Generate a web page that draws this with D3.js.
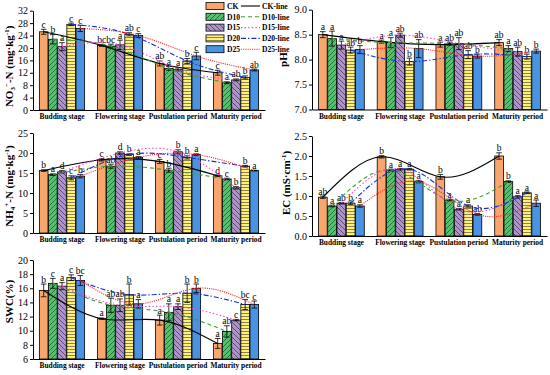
<!DOCTYPE html>
<html>
<head>
<meta charset="utf-8">
<script src="https://cdn.jsdelivr.net/npm/d3@7"></script>
<style>
  body { margin: 0; background: #fff; }
  svg { display: block; }
  text { font-family: "Liberation Serif", "Times New Roman", serif; }
</style>
</head>
<body>
<div id="chart"></div>
<script>
const stages = ['Budding stage', 'Flowering stage', 'Pustulation period', 'Maturity period'];
const series = ['CK', 'D10', 'D15', 'D20', 'D25'];

// values per stage, in series order CK, D10, D15, D20, D25
const no3Mean = [[25.2, 22.8, 20.4, 27.6, 26.3], [20.8, 20.6, 21.0, 24.4, 24.0], [15.0, 13.4, 13.1, 15.8, 17.4], [12.0, 8.8, 9.7, 10.5, 12.9]];
const no3Err = [[0.8, 1.5, 1.3, 0.4, 1.0], [0.3, 0.6, 1.5, 0.5, 0.6], [0.8, 0.6, 0.5, 0.8, 1.2], [0.8, 0.3, 0.3, 0.5, 0.3]];
const no3Sig = [['c', 'b', 'a', 'c', 'c'], ['bc', 'bc', 'a', 'ab', 'c'], ['ab', 'a', 'a', 'b', 'c'], ['c', 'a', 'ab', 'b', 'ab']];

const phMean = [[8.50, 8.42, 8.29, 8.19, 8.20], [8.36, 8.34, 8.49, 7.96, 8.22], [8.30, 8.32, 8.32, 8.10, 8.07], [8.34, 8.22, 8.16, 8.06, 8.17]];
const phErr = [[0.06, 0.15, 0.08, 0.06, 0.08], [0.03, 0.10, 0.04, 0.07, 0.18], [0.05, 0.03, 0.12, 0.08, 0.04], [0.06, 0.06, 0.09, 0.05, 0.04]];
const phSig = [['a', 'a', 'a', 'ab', 'b'], ['a', 'a', 'ab', 'b', 'ab'], ['a', 'ab', 'ab', 'ab', 'b'], ['ab', 'a', 'ab', 'b', 'b']];

const nh4Mean = [[15.6, 14.6, 15.3, 13.8, 14.2], [18.3, 16.7, 20.0, 19.6, 18.9], [17.9, 15.7, 20.3, 18.9, 19.6], [14.3, 13.5, 11.3, 16.7, 15.6]];
const nh4Err = [[0.2, 0.2, 0.3, 0.5, 0.4], [0.3, 0.5, 0.3, 0.2, 0.2], [0.5, 0.5, 0.5, 0.4, 0.2], [0.2, 0.2, 0.3, 0.2, 0.1]];
const nh4Sig = [['b', 'a', 'd', 'c', 'b'], ['c', 'ab', 'd', 'b', 'a'], ['c', 'b', 'b', 'b', 'a'], ['d', 'c', 'b', 'b', 'a']];

const ecMean = [[0.97, 0.75, 0.82, 0.82, 0.75], [1.98, 1.65, 1.67, 1.67, 1.36], [1.48, 0.90, 0.67, 0.75, 0.54], [2.00, 1.36, 0.98, 1.08, 0.82]];
const ecErr = [[0.03, 0.02, 0.02, 0.03, 0.03], [0.03, 0.02, 0.02, 0.02, 0.03], [0.06, 0.02, 0.02, 0.03, 0.02], [0.08, 0.02, 0.03, 0.02, 0.08]];
const ecSig = [['ab', 'a', 'ab', 'b', 'a'], ['b', 'a', 'a', 'a', 'a'], ['b', 'a', 'a', 'a', 'ab'], ['b', 'b', 'a', 'a', 'a']];

const swcMean = [[15.7, 16.7, 16.3, 17.5, 17.1], [11.7, 13.6, 13.6, 15.1, 13.8], [11.5, 12.6, 13.4, 15.3, 16.0], [8.2, 9.9, 11.5, 13.7, 13.7]];
const swcErr = [[0.9, 0.7, 0.5, 0.4, 0.7], [0.1, 1.0, 0.9, 1.5, 0.6], [0.7, 1.2, 0.4, 1.3, 0.6], [0.7, 0.8, 0.1, 0.7, 0.5]];
const swcSig = [['b', 'c', 'a', 'c', 'bc'], ['a', 'ab', 'ab', 'b', 'a'], ['a', 'a', 'a', 'b', 'b'], ['a', 'ab', 'c', 'bc', 'c']];

const barFill = { CK: '#f9a66c', D10: 'url(#hatch-d10)', D15: 'url(#hatch-d15)', D20: 'url(#hatch-d20)', D25: '#4a92e2' };
const lineColor = { CK: '#000', D10: '#3f9f2f', D15: '#ff3bdc', D20: '#1a2fd6', D25: '#ff2424' };
const lineDash = { CK: null, D10: '4,3', D15: '1.4,2.2', D20: '5,2,1.4,2', D25: '1.1,1.1' };

const W = 550, H = 375;
const svg = d3.select('#chart').append('svg')
  .attr('width', W)
  .attr('height', H);

svg.append('rect').attr('width', W).attr('height', H).attr('fill', '#fff');

// hatch patterns
const defs = svg.append('defs');
function hatch(id, bg, path, size, stroke) {
  const p = defs.append('pattern')
    .attr('id', id)
    .attr('patternUnits', 'userSpaceOnUse')
    .attr('width', size)
    .attr('height', size);
  p.append('rect').attr('width', size).attr('height', size).attr('fill', bg);
  p.append('path').attr('d', path).attr('stroke', stroke).attr('stroke-width', 0.7).attr('fill', 'none');
}
hatch('hatch-d10', '#52c26d', 'M0,5 L5,0 M-1,1 L1,-1 M4,6 L6,4', 5, '#1b4a26');
hatch('hatch-d15', '#ae94ca', 'M0,0 L5,5 M4,-1 L6,1 M-1,4 L1,6', 5, '#3b2c4c');
hatch('hatch-d20', '#fff07c', 'M0,1.5 L3,1.5', 3, '#5a5535');

function drawPanel(cfg) {
  const g = svg.append('g');
  const x0 = d3.scaleBand().domain(stages).range([cfg.left, cfg.right]).paddingInner(0).paddingOuter(0);
  const bw0 = x0.bandwidth();
  const x1 = d3.scaleBand().domain(series).range([bw0 * 0.11, bw0 * 0.89]).paddingInner(0.06);
  const bw = x1.bandwidth();
  const y = d3.scaleLinear().domain(cfg.domain).range([cfg.bottom, cfg.top]);

  const rows = [];
  stages.forEach((st, i) => series.forEach((s, j) => {
    rows.push({ st, s, i, j, v: cfg.mean[i][j], e: cfg.err[i][j], sig: cfg.sig[i][j] });
  }));
  const cx = d => x0(d.st) + x1(d.s) + bw / 2;

  g.selectAll('rect.bar')
    .data(rows)
    .enter()
    .append('rect')
    .attr('class', 'bar')
    .attr('x', d => x0(d.st) + x1(d.s))
    .attr('y', d => y(d.v))
    .attr('width', bw)
    .attr('height', d => y(cfg.domain[0]) - y(d.v))
    .attr('fill', d => barFill[d.s])
    .attr('stroke', '#000')
    .attr('stroke-width', 0.8);

  // error bars
  const eb = g.selectAll('g.err').data(rows).enter().append('g').attr('stroke', '#000').attr('stroke-width', 0.8);
  eb.append('line')
    .attr('x1', cx).attr('x2', cx)
    .attr('y1', d => y(d.v - d.e)).attr('y2', d => y(d.v + d.e));
  eb.append('line')
    .attr('x1', d => cx(d) - 2.8).attr('x2', d => cx(d) + 2.8)
    .attr('y1', d => y(d.v + d.e)).attr('y2', d => y(d.v + d.e));
  eb.append('line')
    .attr('x1', d => cx(d) - 2.8).attr('x2', d => cx(d) + 2.8)
    .attr('y1', d => y(d.v - d.e)).attr('y2', d => y(d.v - d.e));

  // significance letters
  g.selectAll('text.sig')
    .data(rows)
    .enter()
    .append('text')
    .attr('x', cx)
    .attr('y', d => y(d.v + d.e) - 1.5)
    .attr('text-anchor', 'middle')
    .style('font-size', '9.5px')
    .text(d => d.sig);

  // trend lines
  const line = d3.line().curve(d3.curveNatural);
  series.forEach((s, j) => {
    const pts = stages.map((st, i) => [x0(st) + x1(s) + bw / 2, y(cfg.mean[i][j])]);
    g.append('path')
      .attr('d', line(pts))
      .attr('fill', 'none')
      .attr('stroke', lineColor[s])
      .attr('stroke-width', 1.1)
      .attr('stroke-dasharray', lineDash[s]);
  });

  // axes
  const ay = g.append('g')
    .attr('transform', `translate(${cfg.left},0)`)
    .call(d3.axisLeft(y).tickValues(cfg.ticks).tickFormat(cfg.fmt).tickSize(3).tickSizeOuter(0).tickPadding(2));
  ay.selectAll('text').style('font-size', '10px').style('font-family', '"Liberation Serif", serif').attr('fill', '#000');
  ay.select('.domain').attr('stroke-width', 1);

  const ax = g.append('g')
    .attr('transform', `translate(0,${cfg.bottom})`)
    .call(d3.axisBottom(x0).tickSize(0).tickPadding(4));
  ax.selectAll('text')
    .style('font-size', '7.4px')
    .style('font-weight', 'bold')
    .style('font-family', '"Liberation Serif", serif')
    .attr('fill', '#000');
  ax.select('.domain').attr('stroke-width', 1);

  // y label
  const lab = g.append('text')
    .attr('transform', `translate(${cfg.labelX},${(cfg.top + cfg.bottom) / 2 + (cfg.labelDy || 0)}) rotate(-90)`)
    .attr('text-anchor', 'middle')
    .style('font-size', '11px')
    .style('font-weight', 'bold');
  cfg.label.forEach(p => {
    const t = lab.append('tspan').text(p.t);
    if (p.dy) t.attr('dy', p.dy);
    if (p.small) t.style('font-size', '7px');
  });
}

drawPanel({
  mean: no3Mean, err: no3Err, sig: no3Sig, domain: [0, 32], ticks: d3.range(0, 33, 4), fmt: d3.format('d'),
  left: 33, right: 265, top: 10.7, bottom: 110, labelX: 13, labelDy: 6,
  label: [{ t: 'NO' }, { t: '3', dy: 2, small: true }, { t: '−', dy: -6, small: true }, { t: '-N (mg·kg', dy: 4 }, { t: '-1', dy: -4, small: true }, { t: ')', dy: 4 }]
});
drawPanel({
  mean: phMean, err: phErr, sig: phSig, domain: [7, 9], ticks: [7, 7.5, 8, 8.5, 9], fmt: d3.format('.1f'),
  left: 312, right: 547, top: 9.7, bottom: 109.5, labelX: 287,
  label: [{ t: 'pH' }]
});
drawPanel({
  mean: nh4Mean, err: nh4Err, sig: nh4Sig, domain: [0, 25], ticks: d3.range(0, 26, 5), fmt: d3.format('d'),
  left: 33, right: 265, top: 133, bottom: 233, labelX: 13, labelDy: 3,
  label: [{ t: 'NH' }, { t: '4', dy: 2, small: true }, { t: '+', dy: -6, small: true }, { t: '-N (mg·kg', dy: 4 }, { t: '-1', dy: -4, small: true }, { t: ')', dy: 4 }]
});
drawPanel({
  mean: ecMean, err: ecErr, sig: ecSig, domain: [0, 2.5], ticks: [0, 0.5, 1, 1.5, 2, 2.5], fmt: d3.format('.1f'),
  left: 312, right: 547, top: 136, bottom: 236, labelX: 290, labelDy: -3,
  label: [{ t: 'EC (mS·cm' }, { t: '-1', dy: -4, small: true }, { t: ')', dy: 4 }]
});
drawPanel({
  mean: swcMean, err: swcErr, sig: swcSig, domain: [6, 20], ticks: d3.range(6, 21, 2), fmt: d3.format('d'),
  left: 33, right: 265, top: 260, bottom: 359, labelX: 13, labelDy: -8,
  label: [{ t: 'SWC(%)' }]
});

// legend
const legend = svg.append('g');
series.forEach((s, i) => {
  const cy = 6 + i * 10.8;
  legend.append('rect')
    .attr('x', 206).attr('y', cy - 3.5)
    .attr('width', 18).attr('height', 7)
    .attr('fill', barFill[s]).attr('stroke', '#000').attr('stroke-width', 0.8);
  legend.append('text')
    .attr('x', 227).attr('y', cy + 2.7)
    .style('font-size', '7.6px').style('font-weight', 'bold')
    .text(s);
  legend.append('line')
    .attr('x1', 241).attr('x2', 260).attr('y1', cy).attr('y2', cy)
    .attr('stroke', lineColor[s]).attr('stroke-width', 1.1)
    .attr('stroke-dasharray', lineDash[s]);
  legend.append('text')
    .attr('x', 262).attr('y', cy + 2.7)
    .style('font-size', '7.6px').style('font-weight', 'bold')
    .text(s + '-line');
});
</script>
</body>
</html>
